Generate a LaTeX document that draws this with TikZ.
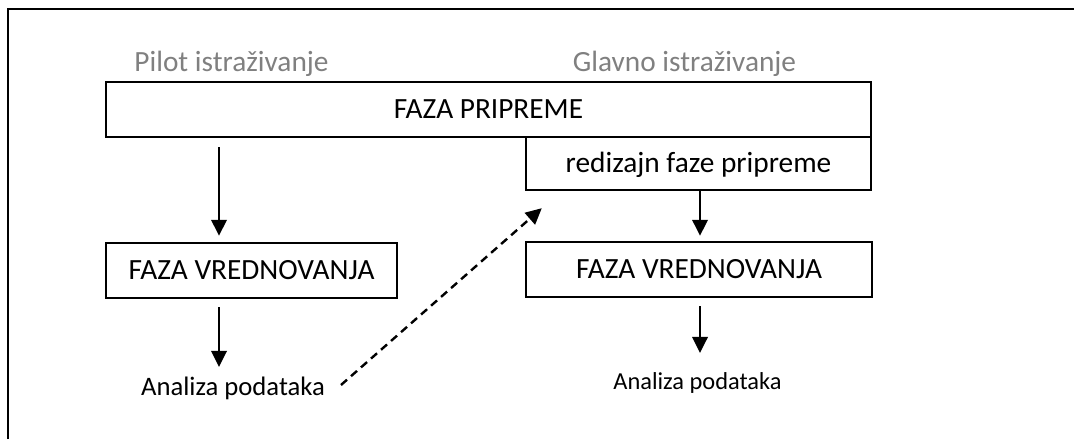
\documentclass[tikz,border=0pt]{standalone}
\usepackage{fontspec}
\setmainfont{Carlito}
\usetikzlibrary{arrows.meta,calc}

\begin{document}
\begin{tikzpicture}[x=0.75pt,y=0.75pt,
    okvir/.style={draw,line width=1.8pt,inner sep=0pt,text height=14pt,text depth=0pt,yshift=-1.5pt,font=\fontsize{22}{26}\selectfont},
    strelica/.style={line width=1.8pt,-{Triangle[length=12pt,width=11.5pt]}},
    isprekidana/.style={line width=1.8pt,dash pattern=on 6pt off 4pt,-{Triangle[length=12pt,width=11.5pt]}},
    faza/.style={anchor=base,text=black!50,inner sep=0pt,font=\fontsize{22}{26}\selectfont},
    analiza/.style={anchor=base,inner sep=0pt}]
                \useasboundingbox (0,0) rectangle (1074,439);
                \draw[line width=1.8pt] (8,0) -- (8,430) -- (1074,430);

                \node[faza] (pilot) at (231.5,367) {Pilot istraživanje};
                \node[faza] (glavno) at (684.5,367) {Glavno istraživanje};

                \node[okvir,minimum width=765*0.75pt,minimum height=55*0.75pt] (prip) at (488.5,331.5) {FAZA PRIPREME};
                \node[okvir,minimum width=345*0.75pt,minimum height=53*0.75pt] (redizajn) at (698.5,277.5) {redizajn faze pripreme};
                \node[okvir,minimum width=291*0.75pt,minimum height=55*0.75pt] (vred1) at (251.5,170.5) {FAZA VREDNOVANJA};
                \node[okvir,minimum width=346*0.75pt,minimum height=55*0.75pt] (vred2) at (699,171.5) {FAZA VREDNOVANJA};

                \node[analiza,font=\fontsize{20}{24}\selectfont] (ana1) at (233,44) {Analiza podataka};
                \node[analiza,font=\fontsize{18.3}{22}\selectfont] (ana2) at (697.5,50) {Analiza podataka};

                % pilot
                \draw[strelica] ($(vred1.north |- prip.south)+(-32.5,-9)$) -- ($(vred1.north)+(-32.5,6)$);
                \draw[strelica] ($(vred1.south)+(-32.5,-8)$) -- ($(ana1.base)+(-14,28)$);
                \draw[isprekidana] ($(ana1.base)+(108,10)$) -- ($(redizajn.south west)+(17,-17)$);

                % glavno
                \draw[strelica] ($(redizajn.south)+(1.5,0)$) -- ($(vred2.north)+(1,5)$);
                \draw[strelica] ($(vred2.south)+(1,-8)$) -- ($(ana2.base)+(2.5,36)$);
            \end{tikzpicture}
\end{document}
